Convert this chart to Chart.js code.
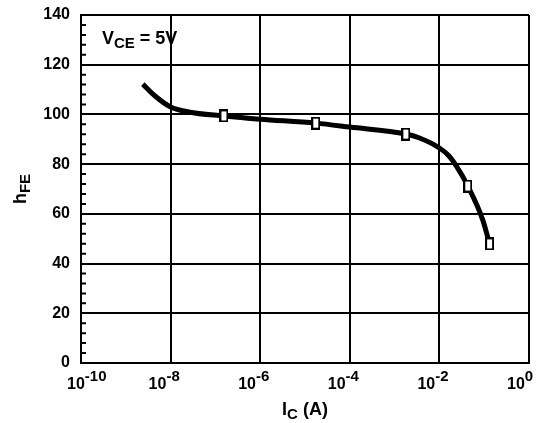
<!DOCTYPE html>
<html>
<head>
<meta charset="utf-8">
<script src="https://cdn.jsdelivr.net/npm/chart.js@4.4.0/dist/chart.umd.min.js"></script>
<style>
  body { margin: 0; background: #fff; }
</style>
</head>
<body>
<canvas id="myChart" width="548" height="423"></canvas>
<script>
// hFE vs Ic curve
const curveIc  = [2.4e-9, 4.5e-9, 1e-8, 2.5e-8, 1.55e-7, 1e-6, 1.74e-5, 1e-4, 1.78e-3, 3.6e-3, 1e-2, 1.6e-2, 2.44e-2, 4.3e-2, 9.3e-2, 0.132];
const curveHfe = [112.2, 107.4, 103, 101, 99.4, 98.1, 96.5, 94.9, 92.1, 90.5, 86.5, 83.5, 79, 71.2, 57.5, 47.9];
// the little square markers on the curve
const markerIc  = [1.55e-7, 1.74e-5, 1.78e-3, 4.3e-2, 0.132];
const markerHfe = [99.4, 96.5, 92.1, 71.2, 47.9];
// axes
const xTickValues = [1e-10, 1e-8, 1e-6, 1e-4, 1e-2, 1];
const xTickExponents = ["-10", "-8", "-6", "-4", "-2", "0"];
const yTickValues = [0, 20, 40, 60, 80, 100, 120, 140];

const FONT = '"Liberation Sans", Arial, sans-serif';
Chart.defaults.font.family = FONT;
Chart.defaults.color = "#000";

function makeMarker() {
  const c = document.createElement("canvas");
  c.width = 9;
  c.height = 13;
  const g = c.getContext("2d");
  g.fillStyle = "#000";
  g.fillRect(0, 0, 9, 13);
  g.fillStyle = "#fff";
  g.fillRect(2, 2, 5, 9);
  return c;
}

// text with a sub/superscript part, drawn left to right from x
function drawParts(ctx, parts, x, baseline) {
  parts.forEach((p) => {
    ctx.font = "bold " + p.size + "px " + FONT;
    ctx.fillText(p.text, x, baseline + (p.shift || 0));
    x += ctx.measureText(p.text).width;
  });
}
function partsWidth(ctx, parts) {
  let w = 0;
  parts.forEach((p) => {
    ctx.font = "bold " + p.size + "px " + FONT;
    w += ctx.measureText(p.text).width;
  });
  return w;
}

//DRAWS MINOR TICKS, LOG TICK LABELS, AXIS TITLES AND THE VCE NOTE
const annotations = {
  id: "annotations",
  afterDraw(chart) {
    const { ctx, chartArea: { left, right, top, bottom }, scales: { x, y } } = chart;
    ctx.save();
    ctx.fillStyle = "#000";
    ctx.strokeStyle = "#000";
    ctx.textAlign = "left";
    ctx.textBaseline = "alphabetic";

    // minor ticks inside the left axis
    ctx.lineWidth = 2;
    ctx.beginPath();
    for (let v = 4; v < 140; v += 4) {
      if (v % 20 === 0) continue;
      const py = y.getPixelForValue(v);
      ctx.moveTo(left, py);
      ctx.lineTo(left + 5, py);
    }
    ctx.stroke();

    // 10^n labels under the x axis
    xTickValues.forEach((v, i) => {
      const px = x.getPixelForValue(v);
      const sx = i === 0 ? px - 14 : px - 22;
      drawParts(ctx, [
        { text: "10", size: 16 },
        { text: xTickExponents[i], size: 15, shift: -8 }
      ], sx, bottom + 26);
    });

    // x title
    const xTitle = [
      { text: "I", size: 18 },
      { text: "C", size: 15, shift: 4 },
      { text: " (A)", size: 18 }
    ];
    drawParts(ctx, xTitle, (left + right) / 2 - partsWidth(ctx, xTitle) / 2, bottom + 52);

    // y title, rotated
    const yTitle = [
      { text: "h", size: 18 },
      { text: "FE", size: 15, shift: 4 }
    ];
    ctx.save();
    ctx.translate(26, (top + bottom) / 2);
    ctx.rotate(-Math.PI / 2);
    drawParts(ctx, yTitle, -partsWidth(ctx, yTitle) / 2, 0);
    ctx.restore();

    // test condition
    drawParts(ctx, [
      { text: "V", size: 18 },
      { text: "CE", size: 15, shift: 4 },
      { text: " = 5V", size: 18 }
    ], left + 21, top + 29);

    ctx.restore();
  }
};

document.addEventListener("DOMContentLoaded", function () {
  const data = {
    datasets: [
      {
        label: "markers",
        data: markerIc.map((ic, i) => ({ x: ic, y: markerHfe[i] })),
        showLine: false,
        pointStyle: makeMarker(),
        pointRadius: 5,
        order: 0
      },
      {
        label: "hFE",
        data: curveIc.map((ic, i) => ({ x: ic, y: curveHfe[i] })),
        borderColor: "#000",
        borderWidth: 5,
        pointRadius: 0,
        cubicInterpolationMode: "monotone",
        fill: false,
        order: 1
      }
    ]
  };

  const config = {
    type: "line",
    data,
    options: {
      responsive: false,
      animation: false,
      layout: { padding: { top: 15, right: 19, left: 0, bottom: 0 } },
      scales: {
        x: {
          type: "logarithmic",
          min: 1e-10,
          max: 1,
          afterBuildTicks: (scale) => { scale.ticks = xTickValues.map((v) => ({ value: v })); },
          afterFit: (scale) => { scale.height = 60; scale.paddingLeft = 0; scale.paddingRight = 0; },
          ticks: { display: false },
          grid: { color: "#000", lineWidth: 2, drawTicks: false },
          border: { color: "#000", width: 2 }
        },
        y: {
          min: 0,
          max: 140,
          afterBuildTicks: (scale) => { scale.ticks = yTickValues.map((v) => ({ value: v })); },
          afterFit: (scale) => { scale.width = 81; scale.paddingTop = 0; scale.paddingBottom = 0; },
          ticks: {
            color: "#000",
            padding: 11,
            font: { size: 16, weight: "bold" }
          },
          grid: { color: "#000", lineWidth: 2, drawTicks: false },
          border: { color: "#000", width: 2 }
        }
      },
      plugins: {
        legend: { display: false },
        tooltip: { enabled: false }
      }
    },
    plugins: [annotations]
  };

  new Chart(document.getElementById("myChart"), config);
});
</script>
</body>
</html>
